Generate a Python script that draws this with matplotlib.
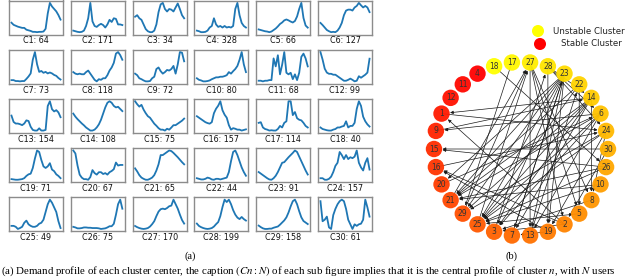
import numpy as np
import matplotlib
matplotlib.use("Agg")
import matplotlib.pyplot as plt
from matplotlib.patches import FancyArrowPatch

plt.rcParams["font.family"] = "DejaVu Sans"
plt.rcParams["mathtext.fontset"] = "stix"

# cluster center profiles (normalised, 24 samples each)
profiles = [
    [0.35,0.28,0.25,0.22,0.2,0.18,0.18,0.12,0.1,0.08,0.05,0.05,0.04,0.05,0.05,0.06,0.15,0.65,1.0,0.88,0.8,0.72,0.6,0.45],
    [0.1,0.08,0.06,0.05,0.06,0.1,0.25,0.5,1.0,0.4,0.25,0.22,0.28,0.32,0.28,0.2,0.3,0.45,0.38,0.5,0.48,0.3,0.3,0.28],
    [0.55,0.6,0.5,0.45,0.3,0.15,0.08,0.05,0.05,0.1,0.3,0.7,0.95,1.0,0.8,0.72,0.8,0.78,0.72,0.85,0.98,0.8,0.6,0.5],
    [0.1,0.08,0.05,0.05,0.06,0.1,0.2,0.25,0.5,0.3,0.22,0.25,0.2,0.25,0.2,0.22,0.2,0.25,0.8,1.0,0.6,0.35,0.25,0.2],
    [0.12,0.1,0.08,0.06,0.05,0.03,0.05,0.1,0.15,0.22,0.3,0.35,0.42,0.45,0.42,0.38,0.35,0.4,0.55,0.8,1.0,0.5,0.25,0.18],
    [0.35,0.28,0.2,0.12,0.08,0.05,0.06,0.05,0.1,0.2,0.35,0.6,0.75,0.78,0.78,0.75,0.85,0.9,1.0,0.92,0.85,0.9,0.85,0.7],
    [0.08,0.08,0.05,0.05,0.04,0.05,0.05,0.12,0.2,0.3,0.75,1.0,0.6,0.35,0.38,0.32,0.35,0.3,0.33,0.3,0.25,0.22,0.15,0.1],
    [0.35,0.3,0.28,0.3,0.28,0.28,0.35,0.4,0.3,0.2,0.1,0.05,0.12,0.1,0.15,0.15,0.25,0.4,0.5,0.65,0.95,1.0,0.9,0.75],
    [0.3,0.25,0.15,0.12,0.08,0.05,0.05,0.06,0.15,0.2,0.45,0.5,0.38,0.3,0.35,0.42,0.4,0.45,0.55,0.3,0.6,1.0,0.98,0.7],
    [0.15,0.1,0.08,0.05,0.05,0.06,0.08,0.12,0.15,0.18,0.18,0.2,0.2,0.22,0.25,0.35,0.3,0.38,0.45,0.55,0.75,1.0,0.6,0.35],
    [0.1,0.1,0.08,0.1,0.1,0.12,0.12,0.8,0.55,0.9,0.3,0.6,1.0,0.35,0.3,0.35,0.15,0.3,0.12,0.35,0.85,0.95,0.8,0.55],
    [1.0,0.75,0.45,0.32,0.28,0.28,0.25,0.25,0.2,0.15,0.1,0.05,0.05,0.08,0.12,0.08,0.03,0.05,0.2,0.15,0.2,0.25,0.32,0.78],
    [0.55,0.35,0.3,0.3,0.28,0.25,0.3,0.4,0.38,0.2,0.1,0.08,0.08,0.15,0.08,0.08,0.1,0.85,1.0,0.75,0.68,0.72,0.65,0.5],
    [0.6,0.5,0.42,0.35,0.28,0.22,0.15,0.1,0.05,0.05,0.08,0.15,0.25,0.4,0.6,0.8,0.95,1.0,0.95,0.85,0.8,0.82,0.75,0.68],
    [1.0,0.9,0.82,0.88,0.72,0.6,0.5,0.45,0.35,0.25,0.18,0.1,0.05,0.05,0.02,0.08,0.05,0.12,0.2,0.2,0.25,0.3,0.35,0.42],
    [0.5,0.45,0.4,0.35,0.3,0.27,0.25,0.3,0.6,0.75,0.85,1.0,0.7,0.55,0.45,0.2,0.05,0.1,0.08,0.05,0.05,0.02,0.04,0.06],
    [0.3,0.32,0.15,0.1,0.08,0.05,0.06,0.05,0.05,0.1,0.2,0.15,0.3,0.35,1.0,1.0,0.55,0.65,0.45,0.4,0.38,0.3,0.2,0.15],
    [0.15,0.1,0.08,0.06,0.05,0.05,0.08,0.1,0.15,0.15,0.18,0.2,0.35,0.15,0.2,0.2,0.3,0.75,1.0,0.85,0.5,0.35,0.25,0.18],
    [0.05,0.04,0.03,0.03,0.04,0.05,0.08,0.15,0.2,0.22,0.4,0.7,0.95,0.9,0.65,0.45,0.4,0.45,0.55,0.35,0.3,0.2,0.15,0.08],
    [1.0,0.9,0.5,0.2,0.1,0.05,0.05,0.03,0.12,0.35,0.25,0.2,0.28,0.28,0.22,0.25,0.2,0.28,0.32,0.38,0.6,0.5,0.52,0.52],
    [0.42,0.32,0.2,0.12,0.08,0.05,0.05,0.08,0.12,0.2,0.35,0.55,0.85,0.85,0.9,0.95,1.0,0.98,0.92,0.85,0.78,0.7,0.62,0.55],
    [0.1,0.08,0.06,0.06,0.08,0.12,0.1,0.06,0.05,0.08,0.08,0.06,0.08,0.1,0.12,0.3,0.65,0.95,1.0,0.85,0.65,0.45,0.3,0.18],
    [0.3,0.25,0.2,0.15,0.1,0.06,0.05,0.1,0.18,0.3,0.45,0.6,0.62,0.7,0.78,0.85,0.92,1.0,0.95,0.8,0.65,0.5,0.35,0.22],
    [0.1,0.1,0.05,0.05,0.08,0.15,0.3,0.5,0.6,0.95,0.85,0.72,0.85,0.72,0.78,0.75,0.8,1.0,0.6,0.45,0.35,0.6,0.75,0.38],
    [0.15,0.15,0.12,0.05,0.08,0.12,0.25,0.32,0.2,0.15,0.12,0.12,0.15,0.22,0.25,0.35,0.6,0.85,1.0,0.9,0.75,0.6,0.3,0.08],
    [0.1,0.08,0.05,0.05,0.06,0.08,0.08,0.07,0.07,0.06,0.06,0.06,0.05,0.03,0.04,0.05,0.08,0.12,0.12,0.2,0.5,0.85,1.0,0.7],
    [0.12,0.08,0.05,0.03,0.02,0.03,0.05,0.1,0.18,0.28,0.45,0.6,0.68,0.7,0.68,0.72,0.78,0.8,1.0,0.85,0.7,0.5,0.32,0.2],
    [0.2,0.12,0.08,0.05,0.03,0.02,0.03,0.05,0.1,0.18,0.25,0.45,0.75,1.0,0.92,1.0,0.85,0.65,0.5,0.4,0.35,0.42,0.35,0.3],
    [0.15,0.1,0.06,0.04,0.04,0.05,0.05,0.08,0.1,0.12,0.18,0.25,0.32,0.42,0.58,0.78,0.95,1.0,0.85,0.62,0.42,0.3,0.25,0.2],
    [0.95,0.3,0.35,0.45,0.1,0.05,0.5,0.7,0.85,0.95,1.0,0.95,0.7,0.35,0.2,0.05,0.2,0.15,0.2,0.22,0.35,1.0,0.75,0.45],
]
cluster_sizes = [64, 171, 34, 328, 66, 127, 73, 118, 72, 80, 68, 99, 154, 108, 75,
                 157, 114, 40, 71, 67, 65, 44, 91, 157, 49, 75, 170, 199, 158, 61]

# graph (b): node order around the ring, from most unstable to most stable
ring_order = [18, 17, 27, 28, 23, 22, 14, 6, 24, 30, 26, 10, 8, 5, 2,
              19, 13, 7, 3, 25, 29, 21, 20, 16, 15, 9, 1, 12, 11, 4]
edges = [
    (14, 1), (6, 9), (30, 15), (26, 15), (2, 16), (19, 16), (2, 1),
    (23, 21), (23, 29), (23, 25), (23, 3), (23, 7), (23, 13), (23, 20), (23, 19),
    (14, 21), (14, 25), (14, 3), (14, 29), (14, 7), (14, 8),
    (6, 25), (6, 21), (6, 3), (6, 13),
    (24, 25), (24, 29), (24, 19), (24, 8),
    (22, 25), (22, 5), (22, 21),
    (28, 19), (28, 6), (28, 14), (28, 24),
    (27, 13), (27, 8), (27, 2), (27, 5),
    (18, 26), (17, 29),
    (21, 27), (29, 27), (25, 27), (3, 28), (7, 23), (13, 22),
    (10, 21), (10, 25), (26, 21), (26, 25),
    (2, 3), (5, 25), (8, 3), (19, 7), (30, 2), (16, 24), (20, 6), (1, 24), (9, 14),
]

W, H = 640, 278
fig = plt.figure(figsize=(W / 100, H / 100), dpi=100)


def px_axes(x, y, w, h):
    # axes placed by pixel box (top-left origin)
    return fig.add_axes([x / W, 1 - (y + h) / H, w / W, h / H])


# (a) grid of small profile plots
for i, prof in enumerate(profiles):
    r, c = divmod(i, 6)
    ax = px_axes(9 + c * 61.8, 0.5 + r * 49.2, 54, 34)
    ax.plot(prof, color="#1f77b4", lw=1.3)
    ax.set_xticks([])
    ax.set_yticks([])
    ax.margins(x=0.05, y=0.08)
    for s in ax.spines.values():
        s.set_color("#8c8c8c")
        s.set_linewidth(1.0)
    ax.text(0.5, -0.19, f"C{i + 1}: {cluster_sizes[i]}", transform=ax.transAxes,
            ha="center", va="center", fontsize=5.8, color="#111111")

# (b) directed graph on a circle
gx = px_axes(380, 0, 260, 278)
gx.set_xlim(380, 640)
gx.set_ylim(278, 0)
gx.axis("off")

cx, cy, R = 521, 149, 87
pos = {}
for k, n in enumerate(ring_order):
    a = np.deg2rad(108 - 12 * k)
    pos[n] = (cx + R * np.cos(a), cy - R * np.sin(a))

for s, d in edges:
    arr = FancyArrowPatch(pos[s], pos[d], arrowstyle="-|>", mutation_scale=4.5,
                          shrinkA=0, shrinkB=6.2, lw=0.5, color="#1a1a1a", zorder=1)
    gx.add_patch(arr)

cmap = plt.cm.autumn
node_cols = [cmap(1 - k / (len(ring_order) - 1)) for k in range(len(ring_order))]
gx.scatter([pos[n][0] for n in ring_order], [pos[n][1] for n in ring_order],
           s=140, c=node_cols, edgecolors="none", zorder=2, alpha=0.95)
for n in ring_order:
    gx.text(pos[n][0], pos[n][1], str(n), ha="center", va="center",
            fontsize=5.5, color="#333333", zorder=3)

# legend drawn by hand
gx.scatter([538], [31], s=75, color="#ffff00", edgecolors="none")
gx.scatter([540], [44], s=75, color="#ff0000", edgecolors="none")
gx.text(553, 31, "Unstable Cluster", fontsize=6.2, va="center", color="#222222")
gx.text(561, 44, "Stable Cluster", fontsize=6.2, va="center", color="#222222")

# sub captions
fig.text(190 / W, 1 - 256 / H, "(a)", fontsize=7.5, family="Liberation Serif",
         ha="center", va="center")
fig.text(512 / W, 1 - 256 / H, "(b)", fontsize=7.5, family="Liberation Serif",
         ha="center", va="center")
fig.text(1 / W, 1 - 271 / H,
         r"(a) Demand profile of each cluster center, the caption $(Cn:N)$ of each sub figure "
         r"implies that it is the central profile of cluster $n$, with $N$ users",
         fontsize=7.85, family="Liberation Serif", ha="left", va="center")

fig.savefig("out.png", dpi=100)
